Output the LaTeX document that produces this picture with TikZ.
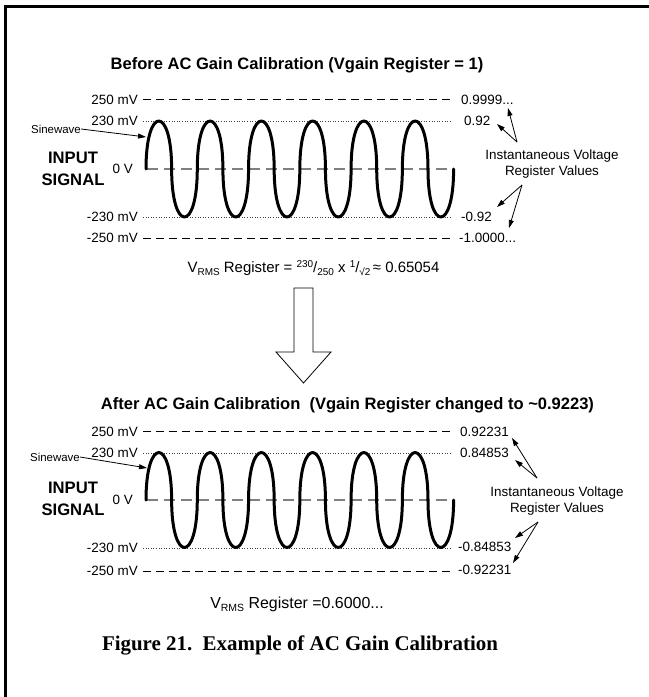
\documentclass[tikz,border=0pt]{standalone}
\usepackage{fontspec}
\setmainfont{Liberation Sans}
\newfontfamily\capfont{Liberation Serif}
\usetikzlibrary{arrows.meta}
\newcommand\mysub[2][10]{\raisebox{-0.35ex}{\fontsize{#1}{#1}\selectfont #2}}
\newcommand\mysup[2][10]{\raisebox{0.6ex}{\fontsize{#1}{#1}\selectfont #2}}
\tikzset{
  lbl/.style={inner sep=0pt, font=\fontsize{13.5}{15}\selectfont},
  ttl/.style={inner sep=0pt, font=\fontsize{16.6}{18}\selectfont\bfseries},
  big/.style={inner sep=0pt, align=center, font=\fontsize{16.7}{22}\selectfont\bfseries},
  swl/.style={inner sep=0pt, font=\fontsize{11.5}{13}\selectfont},
  inst/.style={inner sep=0pt, align=center, font=\fontsize{13.5}{17}\selectfont},
  dashline/.style={line width=1bp, dash pattern=on 8bp off 5bp},
  dotline/.style={line width=0.9bp, black!75, dash pattern=on 1bp off 1.6bp},
  zeroline/.style={line width=2bp, black!50, dash pattern=on 11bp off 6bp},
  wave/.style={line width=3bp, line join=round, line cap=round},
  ptr/.style={line width=0.8bp, -{Triangle[length=8bp,width=5bp]}},
  hollow/.style={line width=0.8bp, fill=white, line join=miter}
}
\begin{document}
\begin{tikzpicture}[x=1bp,y=-1bp]
\useasboundingbox (0,0) rectangle (649,697);
\draw[line width=2.7bp] (5.3,697) -- (5.3,6.3) -- (649,6.3);

% ---------- top panel ----------
\node[ttl] (ttop) at (297,65) {Before AC Gain Calibration (Vgain Register = 1)};
\draw[dashline] (143,100) -- (452,100);
\draw[dotline] (143,121) -- (450,121);
\draw[zeroline] (147,169) -- (453,169);
\draw[dotline] (143,217) -- (450,217);
\draw[dashline] (143,238) -- (452,238);
\draw[wave] (146,169)
  \foreach \i in {0,...,5} {
    .. controls ({146+\i*51.27},105) and ({171.635+\i*51.27},105) .. ({171.635+\i*51.27},169)
    .. controls ({171.635+\i*51.27},233) and ({197.27+\i*51.27},233) .. ({197.27+\i*51.27},169)
  };
\node[lbl,anchor=east] (tl1) at (138,100) {250 mV};
\node[lbl,anchor=east] (tl2) at (138,121) {230 mV};
\node[lbl,anchor=east] (tl3) at (133,169) {0 V};
\node[lbl,anchor=east] (tl4) at (138,217) {-230 mV};
\node[lbl,anchor=east] (tl5) at (138,238) {-250 mV};
\node[big] (tin) at (73,169) {INPUT\\SIGNAL};
\node[swl] (tsw) at (56,129) {Sinewave};
\coordinate (tswp) at (146,137);
\draw[ptr] (tsw.east) -- (tswp);
\node[lbl,anchor=west] (tr1) at (461,100) {0.9999...};
\node[lbl,anchor=west] (tr2) at (464,121) {0.92};
\node[lbl,anchor=west] (tr3) at (461,217) {-0.92};
\node[lbl,anchor=west] (tr4) at (459,238) {-1.0000...};
\node[inst] (tinst) at (552,164) {Instantaneous Voltage\\Register Values};
\coordinate (ta1) at (517,142);
\coordinate (ta2) at (522,185);
\coordinate (tt1) at (508,108);
\coordinate (tt2) at (497,124);
\coordinate (tt3) at (497,207);
\coordinate (tt4) at (509,228);
\draw[ptr] (ta1) -- (tt1);
\draw[ptr] (ta1) -- (tt2);
\draw[ptr] (ta2) -- (tt3);
\draw[ptr] (ta2) -- (tt4);
\node[inner sep=0pt, font=\fontsize{15}{17}\selectfont] (tv) at (313.5,268)
  {V\mysub{RMS} Register = \mysup{230}/\mysub{250} x \mysup{1}/\mysub{√2}\,≈ 0.65054};

% ---------- hollow arrow ----------
\coordinate (h1) at (294,288);
\coordinate (h2) at (313,288);
\coordinate (h3) at (313,352);
\coordinate (h4) at (331,352);
\coordinate (h5) at (303.5,383);
\coordinate (h6) at (276,352);
\coordinate (h7) at (294,352);
\draw[hollow] (h1) -- (h2) -- (h3) -- (h4) -- (h5) -- (h6) -- (h7) -- cycle;

% ---------- bottom panel ----------
\node[ttl] (tbot) at (347.5,405) {After AC Gain Calibration\ \ (Vgain Register changed to \textasciitilde0.9223)};
\begin{scope}[shift={(0,331)}]
\draw[dashline] (143,100) -- (452,100);
\draw[dotline] (143,122) -- (450,122);
\draw[zeroline] (147,169) -- (453,169);
\draw[dotline] (143,217) -- (450,217);
\draw[dashline] (143,240) -- (452,240);
\draw[wave] (146,169)
  \foreach \i in {0,...,5} {
    .. controls ({146+\i*51.27},105.7) and ({171.635+\i*51.27},105.7) .. ({171.635+\i*51.27},169)
    .. controls ({171.635+\i*51.27},232.3) and ({197.27+\i*51.27},232.3) .. ({197.27+\i*51.27},169)
  };
\node[lbl,anchor=east] (bl1) at (138,101) {250 mV};
\node[lbl,anchor=east] (bl2) at (138,122) {230 mV};
\node[lbl,anchor=east] (bl3) at (133,169) {0 V};
\node[lbl,anchor=east] (bl4) at (138,217) {-230 mV};
\node[lbl,anchor=east] (bl5) at (138,240) {-250 mV};
\node[big] (bin) at (73,168) {INPUT\\SIGNAL};
\node[swl] (bsw) at (55,126) {Sinewave};
\coordinate (bswp) at (147,137);
\draw[ptr] (bsw.east) -- (bswp);
\node[lbl,anchor=west] (br1) at (460,101) {0.92231};
\node[lbl,anchor=west] (br2) at (460,122) {0.84853};
\node[lbl,anchor=west] (br3) at (458,216) {-0.84853};
\node[lbl,anchor=west] (br4) at (458,239) {-0.92231};
\node[inst] (binst) at (557,170) {Instantaneous Voltage\\Register Values};
\coordinate (ba1) at (537,147);
\coordinate (ba2) at (538,191);
\coordinate (bt1) at (512,107);
\coordinate (bt2) at (515,129);
\coordinate (bt3) at (515,207);
\coordinate (bt4) at (513,232);
\draw[ptr] (ba1) -- (bt1);
\draw[ptr] (ba1) -- (bt2);
\draw[ptr] (ba2) -- (bt3);
\draw[ptr] (ba2) -- (bt4);
\end{scope}
\node[inner sep=0pt, font=\fontsize{16}{18}\selectfont] (bv) at (297,604)
  {V\mysub[10.5]{RMS} Register =0.6000...};

% ---------- caption ----------
\node[inner sep=0pt, font=\capfont\bfseries\fontsize{21}{23}\selectfont] (cap) at (300,645)
  {Figure 21.\ \ Example of AC Gain Calibration};
\end{tikzpicture}
\end{document}
